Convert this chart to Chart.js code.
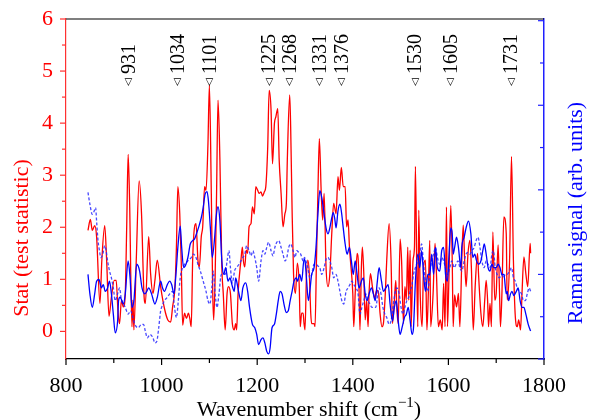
<!DOCTYPE html>
<html>
<head>
<meta charset="utf-8">
<script src="https://cdn.jsdelivr.net/npm/chart.js@4.4.1/dist/chart.umd.min.js"></script>
<style>
  html, body { margin: 0; padding: 0; background: #fff; }
</style>
</head>
<body>
<canvas id="chart" width="589" height="420"></canvas>
<script>
// Stat (test statistic), left axis
const statX = [846, 851, 855, 860, 864, 871, 875, 881, 885, 890, 895, 901, 905, 909, 912, 916, 920, 924, 927, 930,
  933, 938, 940, 942, 947, 953, 958, 963, 966, 973, 977, 982, 986, 991, 998, 1006, 1013, 1019, 1023, 1028,
  1031, 1034, 1038, 1041, 1044, 1048, 1052, 1056, 1059, 1062, 1065, 1069, 1072, 1076, 1079, 1083, 1086, 1090, 1093, 1097,
  1100, 1104, 1107, 1109, 1112, 1115, 1118, 1122, 1126, 1129, 1133, 1137, 1140, 1144, 1148, 1152, 1155, 1157, 1160, 1166,
  1169, 1171, 1174, 1177, 1180, 1183, 1187, 1190, 1194, 1197, 1201, 1204, 1208, 1211, 1215, 1218, 1222, 1225, 1229, 1232,
  1236, 1239, 1243, 1246, 1250, 1254, 1258, 1261, 1263, 1268, 1270, 1273, 1276, 1280, 1284, 1288, 1290, 1293, 1296, 1298,
  1300, 1303, 1306, 1309, 1312, 1314, 1319, 1321, 1324, 1327, 1330, 1334, 1337, 1340, 1344, 1348, 1352, 1356, 1360, 1365,
  1369, 1372, 1376, 1380, 1384, 1387, 1390, 1393, 1395, 1400, 1402, 1405, 1409, 1412, 1415, 1418, 1420, 1423, 1426, 1429,
  1432, 1434, 1437, 1441, 1446, 1448, 1450, 1454, 1457, 1461, 1464, 1468, 1471, 1476, 1480, 1483, 1487, 1490, 1492, 1495,
  1499, 1502, 1506, 1509, 1512, 1515, 1517, 1520, 1522, 1526, 1529, 1531, 1534, 1536, 1538, 1541, 1545, 1548, 1552, 1555,
  1558, 1561, 1563, 1568, 1572, 1575, 1579, 1583, 1587, 1590, 1593, 1596, 1598, 1601, 1605, 1608, 1610, 1613, 1617, 1621,
  1624, 1628, 1631, 1634, 1637, 1641, 1645, 1648, 1652, 1656, 1661, 1663, 1668, 1672, 1676, 1679, 1682, 1684, 1687, 1690,
  1693, 1697, 1700, 1704, 1707, 1709, 1712, 1716, 1721, 1723, 1728, 1732, 1736, 1740, 1744, 1747, 1751, 1754, 1758, 1762,
  1766, 1771, 1772];
const statY = [1.94, 2.15, 1.94, 2.03, 1.82, 0.54, 1.37, 2.03, 1.37, 0.29, 0.66, 0.98, 0.98, 0.35, 0.15, 0.60, 0.47, 0.73, 2.01, 3.40,
  2.52, 0.09, 0.60, 0.03, 1.37, 2.89, 2.26, 0.73, 0.54, 1.82, 1.11, 0.73, 0.98, 1.37, 0.86, 0.44, 0.22, 0.18, 0.47, 0.86,
  1.62, 2.78, 2.26, 1.37, 0.12, 0.35, 0.25, 0.35, 0.25, 0.09, 1.37, 2.01, 2.07, 1.37, 1.24, 1.82, 2.01, 2.78, 2.71, 3.61,
  4.73, 2.65, 0.73, 0.22, 1.05, 2.65, 4.44, 3.29, 1.24, 0.73, 0.03, 0.73, 0.86, 0.73, 0.15, 0.03, 0.15, 0.03, 0.73, 1.37,
  1.62, 1.37, 1.24, 1.56, 1.50, 2.01, 2.07, 2.39, 2.26, 2.78, 2.71, 2.65, 2.68, 2.60, 2.68, 2.78, 3.54, 4.63, 4.25, 3.22,
  3.99, 4.12, 4.28, 3.29, 2.65, 2.01, 2.26, 2.46, 3.29, 4.54, 3.93, 2.33, 1.11, 0.73, 1.31, 0.86, 0.09, 0.35, 0.35, 0.15,
  0.03, 1.05, 1.37, 1.11, 0.35, 0.15, 0.15, 0.09, 1.37, 2.65, 3.70, 2.65, 2.14, 2.65, 1.24, 0.86, 1.11, 1.88, 2.46, 2.26,
  2.97, 2.71, 3.15, 2.78, 2.78, 2.01, 2.14, 1.62, 1.37, 0.73, 0.09, 0.73, 1.50, 1.24, 0.03, 1.24, 1.62, 1.11, 0.22, 0.60,
  0.09, 0.73, 1.11, 0.86, 0.63, 0.73, 0.79, 0.73, 0.35, 0.09, 0.15, 0.73, 1.37, 2.07, 1.37, 0.15, 0.60, 0.98, 0.47, 0.15,
  1.77, 1.37, 0.15, 0.86, 0.60, 1.62, 0.60, 1.56, 0.09, 1.37, 1.62, 3.17, 1.05, 0.09, 2.33, 0.73, 0.09, 1.24, 1.37, 0.03,
  0.73, 1.75, 0.09, 0.73, 1.69, 1.11, 0.09, 0.22, 0.03, 0.92, 0.09, 2.39, 0.09, 0.98, 2.42, 1.37, 0.09, 0.70, 0.47, 0.73,
  0.09, 1.37, 2.04, 1.37, 0.86, 1.50, 1.75, 1.24, 0.03, 0.86, 1.50, 1.11, 0.35, 0.09, 0.60, 0.98, 0.60, 0.09, 0.54, 0.09,
  1.91, 0.60, 0.73, 1.66, 0.73, 0.09, 0.73, 2.20, 1.88, 0.60, 1.37, 3.36, 1.37, 0.28, 0.09, 0.22, 0.03, 0.73, 1.43, 1.11,
  0.86, 1.69, 1.50];

// Raman signal (solid), right axis
const ramanX = [846, 850, 855, 860, 864, 869, 874, 878, 882, 887, 891, 895, 899, 903, 908, 910, 913, 917, 920, 924,
  930, 934, 938, 942, 948, 954, 959, 965, 969, 973, 979, 986, 991, 998, 1002, 1006, 1012, 1017, 1021, 1026,
  1030, 1034, 1039, 1042, 1046, 1051, 1055, 1060, 1065, 1069, 1073, 1077, 1083, 1087, 1091, 1095, 1098, 1102, 1106, 1111,
  1114, 1118, 1122, 1126, 1130, 1134, 1139, 1143, 1147, 1152, 1155, 1157, 1162, 1166, 1170, 1176, 1180, 1184, 1190, 1195,
  1199, 1203, 1208, 1212, 1216, 1220, 1224, 1227, 1231, 1236, 1240, 1244, 1248, 1252, 1256, 1261, 1265, 1269, 1273, 1277,
  1282, 1284, 1289, 1293, 1298, 1300, 1303, 1307, 1310, 1314, 1319, 1323, 1327, 1331, 1335, 1340, 1344, 1348, 1352, 1356,
  1359, 1362, 1365, 1369, 1373, 1376, 1380, 1384, 1388, 1393, 1397, 1401, 1405, 1409, 1413, 1418, 1422, 1426, 1430, 1434,
  1439, 1443, 1447, 1451, 1455, 1460, 1464, 1469, 1474, 1478, 1483, 1487, 1491, 1495, 1499, 1503, 1508, 1512, 1516, 1520,
  1524, 1527, 1531, 1536, 1540, 1544, 1548, 1552, 1557, 1561, 1565, 1569, 1573, 1577, 1582, 1586, 1590, 1594, 1598, 1601,
  1605, 1608, 1610, 1613, 1617, 1621, 1626, 1628, 1633, 1637, 1642, 1647, 1651, 1655, 1659, 1663, 1668, 1672, 1675, 1679,
  1683, 1687, 1691, 1695, 1700, 1704, 1708, 1712, 1716, 1721, 1723, 1726, 1730, 1733, 1737, 1742, 1746, 1750, 1754, 1758,
  1762, 1767, 1772];
const ramanY = [1.00, 0.77, 0.61, 0.77, 0.92, 0.94, 0.84, 0.88, 0.80, 0.84, 0.92, 0.77, 0.53, 0.31, 0.45, 0.69, 0.73, 0.69, 0.65, 0.77,
  1.16, 0.96, 0.61, 0.69, 1.12, 1.04, 0.84, 0.77, 0.80, 0.84, 0.77, 0.65, 0.73, 0.92, 0.84, 0.80, 0.88, 0.92, 0.88, 0.77,
  1.00, 1.32, 1.57, 1.32, 1.08, 1.12, 1.20, 1.36, 1.40, 1.42, 1.48, 1.55, 1.67, 1.79, 1.95, 1.98, 1.87, 1.55, 1.20, 1.44,
  1.67, 1.80, 1.63, 1.16, 1.00, 1.08, 0.92, 0.96, 0.88, 0.80, 0.96, 0.92, 0.77, 0.69, 0.84, 0.90, 0.80, 0.61, 0.41, 0.37,
  0.29, 0.17, 0.23, 0.25, 0.19, 0.09, 0.06, 0.13, 0.37, 0.41, 0.53, 0.69, 0.80, 0.77, 0.65, 0.55, 0.57, 0.69, 0.80, 0.92,
  0.96, 0.92, 1.00, 0.92, 1.18, 1.16, 0.96, 0.69, 0.80, 1.00, 1.08, 1.32, 1.71, 1.99, 1.91, 1.71, 1.55, 1.48, 1.55, 1.67,
  1.73, 1.67, 1.55, 1.75, 1.83, 1.75, 1.55, 1.36, 1.24, 1.32, 1.16, 1.00, 1.16, 1.00, 0.84, 0.92, 0.96, 0.77, 0.69, 0.77,
  0.84, 0.77, 0.69, 0.90, 1.08, 0.92, 0.80, 0.84, 0.88, 0.65, 0.45, 0.61, 0.69, 0.45, 0.29, 0.37, 0.49, 0.53, 0.61, 0.45,
  0.29, 0.37, 0.92, 1.24, 1.08, 1.28, 1.00, 0.80, 1.00, 1.00, 1.24, 1.00, 1.32, 1.08, 1.04, 1.28, 1.32, 1.00, 0.92, 1.20,
  1.55, 1.48, 1.24, 1.32, 1.44, 1.32, 1.08, 1.32, 1.44, 1.55, 1.63, 1.48, 1.20, 1.24, 1.16, 1.12, 1.16, 1.28, 1.36, 1.24,
  1.08, 1.04, 1.12, 1.08, 1.08, 1.12, 1.08, 1.00, 1.00, 0.77, 0.80, 0.69, 0.77, 0.80, 0.75, 0.80, 0.84, 0.69, 0.61, 0.61,
  0.53, 0.41, 0.33];

// Raman signal (dashed), right axis
const refX = [846, 850, 855, 859, 862, 864, 867, 870, 873, 877, 881, 884, 887, 891, 895, 899, 903, 908, 912, 916,
  920, 924, 930, 935, 940, 944, 951, 958, 962, 966, 970, 976, 982, 986, 990, 994, 998, 1000, 1006, 1012,
  1017, 1023, 1027, 1031, 1035, 1039, 1044, 1048, 1055, 1062, 1066, 1072, 1076, 1081, 1087, 1093, 1097, 1101, 1105, 1108,
  1112, 1116, 1120, 1125, 1129, 1133, 1137, 1141, 1144, 1148, 1153, 1157, 1162, 1166, 1170, 1174, 1178, 1183, 1187, 1191,
  1195, 1199, 1203, 1208, 1212, 1216, 1220, 1224, 1229, 1233, 1237, 1241, 1245, 1250, 1254, 1258, 1262, 1266, 1270, 1275,
  1279, 1283, 1287, 1291, 1296, 1299, 1302, 1306, 1310, 1314, 1319, 1323, 1327, 1331, 1335, 1340, 1344, 1348, 1352, 1356,
  1360, 1365, 1369, 1373, 1377, 1381, 1386, 1390, 1394, 1398, 1402, 1407, 1411, 1415, 1419, 1423, 1427, 1432, 1436, 1440,
  1444, 1448, 1452, 1455, 1459, 1463, 1467, 1471, 1476, 1480, 1484, 1488, 1492, 1497, 1501, 1505, 1509, 1513, 1517, 1520,
  1524, 1527, 1531, 1536, 1540, 1544, 1548, 1552, 1557, 1561, 1565, 1569, 1573, 1577, 1582, 1586, 1590, 1594, 1598, 1603,
  1607, 1612, 1616, 1620, 1624, 1628, 1633, 1637, 1641, 1645, 1649, 1654, 1658, 1662, 1666, 1670, 1675, 1679, 1683, 1687,
  1691, 1694, 1698, 1702, 1707, 1711, 1715, 1719, 1723, 1728, 1732, 1736, 1740, 1744, 1748, 1753, 1757, 1761, 1765, 1769,
  1772];
const refY = [1.97, 1.83, 1.71, 1.75, 1.79, 1.63, 1.40, 1.28, 1.20, 1.24, 1.34, 1.28, 1.16, 1.04, 0.96, 0.84, 0.69, 0.77, 0.84, 0.69,
  0.65, 0.61, 0.53, 0.57, 0.49, 0.41, 0.37, 0.41, 0.41, 0.33, 0.25, 0.29, 0.25, 0.19, 0.21, 0.37, 0.57, 0.61, 0.69, 0.73,
  0.77, 0.80, 0.61, 0.49, 0.69, 0.96, 1.08, 1.12, 1.16, 1.20, 1.24, 1.20, 1.12, 1.04, 0.92, 0.80, 0.69, 0.65, 0.84, 1.04,
  0.77, 0.61, 0.77, 1.00, 1.00, 1.00, 1.16, 1.28, 1.08, 0.90, 1.05, 1.08, 1.12, 1.16, 1.20, 1.24, 1.34, 1.28, 1.22, 1.28,
  1.20, 1.08, 0.92, 1.16, 1.28, 1.24, 1.32, 1.38, 1.28, 1.22, 1.32, 1.38, 1.40, 1.32, 1.24, 1.16, 1.20, 1.32, 1.36, 1.28,
  1.20, 1.28, 1.26, 1.24, 1.16, 1.20, 1.16, 1.08, 0.96, 1.00, 1.12, 1.12, 1.10, 1.08, 1.00, 1.08, 1.18, 1.20, 1.16, 1.08,
  0.96, 1.00, 0.92, 0.80, 0.69, 0.65, 0.80, 0.84, 0.88, 0.92, 0.88, 0.84, 0.77, 0.53, 0.61, 0.69, 0.77, 0.69, 0.65, 0.61,
  0.61, 0.61, 0.75, 0.84, 0.77, 0.61, 0.53, 0.49, 0.41, 0.45, 0.61, 0.77, 0.84, 0.77, 0.61, 0.53, 0.61, 0.69, 0.73, 0.80,
  0.88, 1.00, 1.08, 1.16, 1.24, 1.36, 1.12, 0.92, 0.80, 1.00, 1.16, 1.24, 1.32, 1.20, 1.12, 1.20, 1.16, 1.08, 1.00, 1.08,
  1.16, 1.08, 1.12, 1.16, 1.08, 1.04, 1.16, 1.24, 1.26, 1.24, 1.28, 1.32, 1.40, 1.44, 1.32, 1.16, 1.08, 1.16, 1.12, 1.08,
  1.24, 1.28, 1.08, 1.00, 0.96, 1.00, 0.96, 1.00, 1.00, 1.04, 1.08, 0.96, 0.92, 0.84, 0.80, 0.77, 0.69, 0.69, 0.77, 0.84,
  0.80];

// marked peak positions (cm-1)
const peaks = [931, 1034, 1101, 1225, 1268, 1331, 1376, 1530, 1605, 1731];

// axis ticks
const xTicks = [800, 1000, 1200, 1400, 1600, 1800];
const statTicks = [0, 1, 2, 3, 4, 5, 6];
const ramanTicks = [0, 1, 2, 3, 4];

const serif = '"Liberation Serif", "DejaVu Serif", serif';
const toPoints = (xs, ys) => xs.map((x, i) => ({ x, y: ys[i] }));

function seg(ctx, x1, y1, x2, y2) {
  ctx.beginPath();
  ctx.moveTo(x1, y1);
  ctx.lineTo(x2, y2);
  ctx.stroke();
}

// frame top, tick marks (major + minor), peak labels and axis titles
const decor = {
  id: 'decor',
  afterDraw(chart) {
    const { ctx, chartArea: a, scales: { x, y, y2 } } = chart;
    ctx.save();
    ctx.lineWidth = 1.2;

    ctx.strokeStyle = '#000';
    seg(ctx, a.left, a.top, a.right, a.top);
    xTicks.forEach((v, i) => {
      const px = x.getPixelForValue(v);
      seg(ctx, px, a.bottom, px, a.bottom + 6);
      if (i < xTicks.length - 1) {
        const mx = x.getPixelForValue((v + xTicks[i + 1]) / 2);
        seg(ctx, mx, a.bottom, mx, a.bottom + 4);
      }
    });

    ctx.strokeStyle = '#ff3030';
    statTicks.forEach((v, i) => {
      const py = y.getPixelForValue(v);
      seg(ctx, a.left, py, a.left - 6, py);
      if (i < statTicks.length - 1) {
        const my = y.getPixelForValue((v + statTicks[i + 1]) / 2);
        seg(ctx, a.left, my, a.left - 4, my);
      }
    });

    ctx.strokeStyle = '#2020ff';
    ramanTicks.forEach((v, i) => {
      const py = y2.getPixelForValue(v);
      seg(ctx, a.right, py, a.right - 6, py);
      if (i < ramanTicks.length - 1) {
        const my = y2.getPixelForValue((v + ramanTicks[i + 1]) / 2);
        seg(ctx, a.right, my, a.right - 4, my);
      }
    });

    // peak markers
    ctx.fillStyle = '#000';
    ctx.textAlign = 'left';
    ctx.textBaseline = 'middle';
    peaks.forEach(p => {
      ctx.save();
      ctx.translate(x.getPixelForValue(p), 86);
      ctx.rotate(-Math.PI / 2);
      ctx.font = '10px "DejaVu Sans"';
      ctx.fillText('◁', 0, 0);
      ctx.font = `20px ${serif}`;
      ctx.fillText(String(p), 12, 1);
      ctx.restore();
    });

    // axis titles
    ctx.textAlign = 'center';
    ctx.font = `22px ${serif}`;
    ctx.fillStyle = '#ff0000';
    ctx.save();
    ctx.translate(22, 238);
    ctx.rotate(-Math.PI / 2);
    ctx.fillText('Stat (test statistic)', 0, 0);
    ctx.restore();

    ctx.fillStyle = '#0000ff';
    ctx.save();
    ctx.translate(576, 213);
    ctx.rotate(-Math.PI / 2);
    ctx.fillText('Raman signal (arb. units)', 0, 0);
    ctx.restore();

    ctx.fillStyle = '#000';
    ctx.textAlign = 'left';
    ctx.textBaseline = 'alphabetic';
    const main = 'Wavenumber shift (cm', sup = '\u22121', tail = ')';
    const wMain = ctx.measureText(main).width;
    const wTail = ctx.measureText(tail).width;
    ctx.font = `15px ${serif}`;
    const wSup = ctx.measureText(sup).width;
    let tx = (a.left + a.right) / 2 + 4 - (wMain + wSup + wTail) / 2;
    const ty = 416;
    ctx.font = `22px ${serif}`;
    ctx.fillText(main, tx, ty);
    tx += wMain;
    ctx.font = `15px ${serif}`;
    ctx.fillText(sup, tx, ty - 9);
    tx += wSup;
    ctx.font = `22px ${serif}`;
    ctx.fillText(tail, tx, ty);

    ctx.restore();
  }
};

new Chart(document.getElementById('chart'), {
  type: 'line',
  data: {
    datasets: [
      { data: toPoints(ramanX, ramanY), yAxisID: 'y2', borderColor: '#0000ff', borderWidth: 1.3, order: 1 },
      { data: toPoints(refX, refY), yAxisID: 'y2', borderColor: 'rgba(40,40,255,0.85)', borderWidth: 1.3, borderDash: [3, 2], order: 2 },
      { data: toPoints(statX, statY), yAxisID: 'y', borderColor: '#ff0000', borderWidth: 1.3, order: 3 }
    ]
  },
  options: {
    responsive: false,
    animation: false,
    elements: {
      point: { radius: 0 },
      line: { tension: 0.35, cubicInterpolationMode: 'monotone', fill: false }
    },
    layout: { padding: { top: 19 } },
    plugins: { legend: { display: false }, tooltip: { enabled: false } },
    scales: {
      x: {
        type: 'linear', min: 800, max: 1800,
        afterBuildTicks: s => { s.ticks = xTicks.map(v => ({ value: v })); },
        afterFit: s => { s.height = 61; },
        grid: { display: false },
        border: { display: true, color: '#000', width: 1.2 },
        ticks: { color: '#000', font: { family: serif, size: 22 }, padding: 6, maxRotation: 0, autoSkip: false, callback: v => String(v) }
      },
      y: {
        position: 'left', min: -0.53, max: 6,
        afterBuildTicks: s => { s.ticks = statTicks.map(v => ({ value: v })); },
        afterFit: s => { s.width = 66; },
        grid: { display: false },
        border: { display: true, color: '#ff3030', width: 1.2 },
        ticks: { color: '#ff0000', font: { family: serif, size: 22 }, padding: 5, callback: v => String(v) }
      },
      y2: {
        position: 'right', min: 0, max: 4.02,
        afterBuildTicks: s => { s.ticks = ramanTicks.map(v => ({ value: v })); },
        afterFit: s => { s.width = 45; },
        grid: { display: false },
        border: { display: true, color: '#2020ff', width: 1.5 },
        ticks: { display: false }
      }
    }
  },
  plugins: [decor]
});
</script>
</body>
</html>
